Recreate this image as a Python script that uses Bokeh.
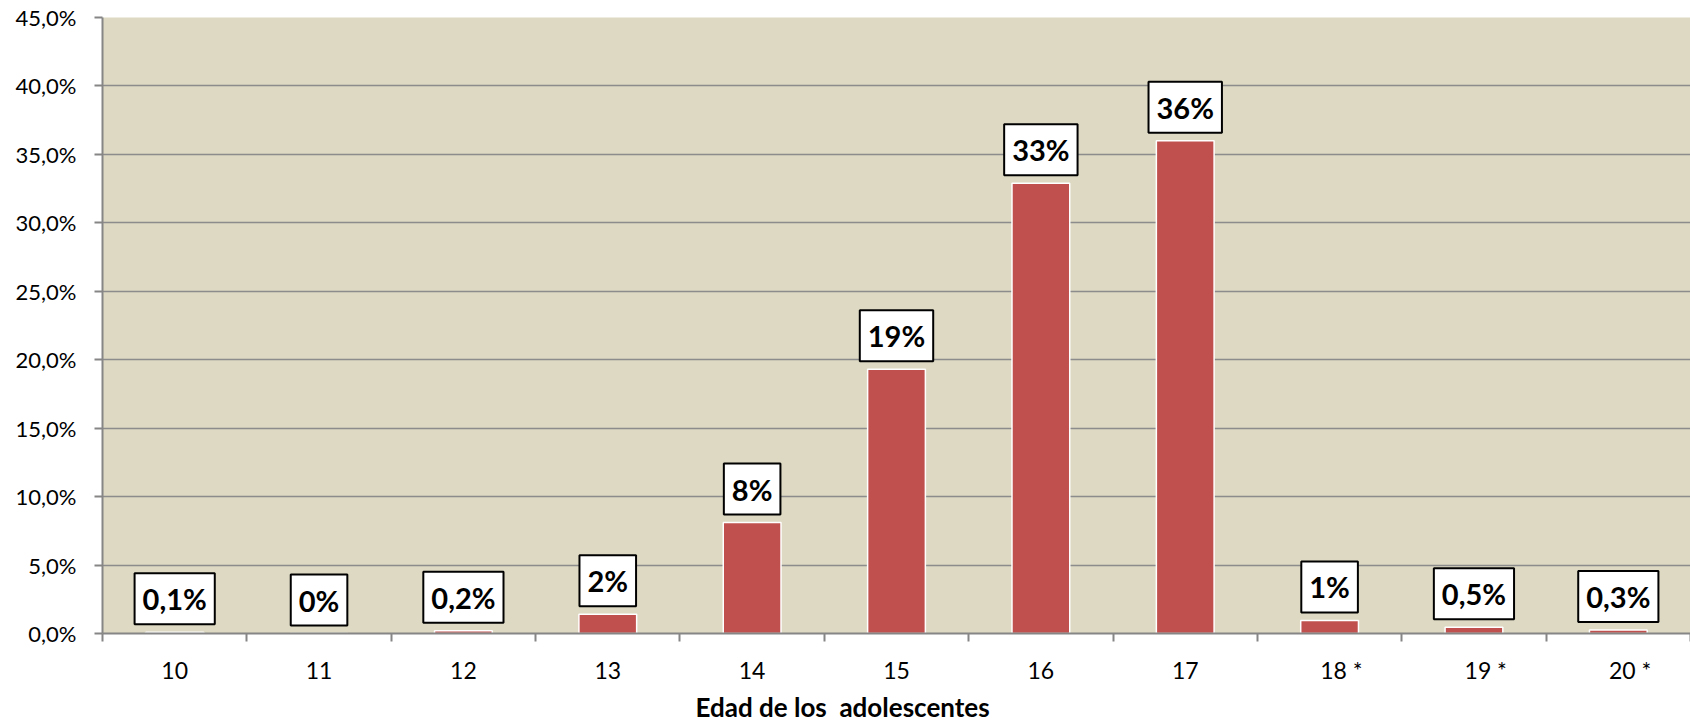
from bokeh.plotting import figure
from bokeh.models import ColumnDataSource, Label, FixedTicker, Range1d, Title
from bokeh.embed import file_html
from bokeh.resources import INLINE

# ---- data ----
ages = ["10", "11", "12", "13", "14", "15", "16", "17", "18", "19", "20"]
percent = [0.1, 0.0, 0.2, 1.4, 8.1, 19.3, 32.9, 36.0, 0.95, 0.45, 0.25]
value_labels = ["0,1%", "0%", "0,2%", "2%", "8%", "19%", "33%", "36%", "1%", "0,5%", "0,3%"]
footnote = ["", "", "", "", "", "", "", "", "*", "*", "*"]
y_ticks = [0, 5, 10, 15, 20, 25, 30, 35, 40, 45]
y_tick_labels = ["0,0%", "5,0%", "10,0%", "15,0%", "20,0%", "25,0%", "30,0%", "35,0%", "40,0%", "45,0%"]
x_title = "Edad de los  adolescentes"

FONT = "Lato"
AXIS_GRAY = "#868686"
NB = "\u00a0"

idx = list(range(len(ages)))
src = ColumnDataSource(dict(x=idx, top=percent, lab=value_labels))

p = figure(width=1690, height=726,
           x_range=Range1d(-0.5, len(ages) - 0.5), y_range=Range1d(0, 45),
           output_backend="svg", toolbar_location=None,
           min_border_left=102, min_border_right=0, min_border_top=17, min_border_bottom=93)
p.background_fill_color = "#DDD9C3"
p.border_fill_color = "white"
p.outline_line_color = None

p.vbar(x="x", top="top", width=0.4, source=src,
       fill_color="#C0504D", line_color="white", line_width=1.5)

# grid
p.xgrid.grid_line_color = None
p.ygrid.grid_line_color = "#8C8C8C"
p.ygrid.grid_line_width = 1.5
p.ygrid.ticker = FixedTicker(ticks=y_ticks)

# y axis
p.yaxis.ticker = FixedTicker(ticks=y_ticks, minor_ticks=[])
p.yaxis.major_label_overrides = {t: l for t, l in zip(y_ticks, y_tick_labels)}
p.yaxis.axis_line_color = AXIS_GRAY
p.yaxis.axis_line_width = 2
p.yaxis.major_tick_line_color = AXIS_GRAY
p.yaxis.major_tick_line_width = 2
p.yaxis.major_tick_out = 8
p.yaxis.major_tick_in = 0
p.yaxis.minor_tick_line_color = None
p.yaxis.major_label_standoff = 18
p.yaxis.major_label_text_font = FONT
p.yaxis.major_label_text_font_size = "22px"
p.yaxis.major_label_text_color = "black"

# x axis: labels at centres, ticks at category boundaries
tick_text = [(NB * 4 + a + " " + f) if f else a for a, f in zip(ages, footnote)]
p.xaxis.ticker = FixedTicker(ticks=idx, minor_ticks=[i - 0.5 for i in range(len(ages) + 1)])
p.xaxis.major_label_overrides = {i: a for i, a in zip(idx, tick_text)}
p.xaxis.axis_line_color = AXIS_GRAY
p.xaxis.axis_line_width = 2
p.xaxis.major_tick_line_color = None
p.xaxis.major_tick_out = 8
p.xaxis.major_tick_in = 0
p.xaxis.minor_tick_line_color = AXIS_GRAY
p.xaxis.minor_tick_line_width = 2
p.xaxis.minor_tick_out = 8
p.xaxis.minor_tick_in = 0
p.xaxis.major_label_standoff = 14
p.xaxis.major_label_text_font = FONT
p.xaxis.major_label_text_font_size = "23px"
p.xaxis.major_label_text_color = "black"

# value labels in white boxes
for x, t, lab in zip(idx, percent, value_labels):
    p.add_layout(Label(x=x, y=t, text=lab, y_offset=8,
                       text_font=FONT, text_font_style="bold", text_font_size="29px",
                       text_color="black", text_align="center", text_baseline="bottom",
                       background_fill_color="white", border_line_color="black",
                       border_line_width=2, padding=8))

# axis title
p.add_layout(Title(text=x_title.replace("  ", " " + NB), align="left", offset=593, standoff=5,
                   text_font=FONT, text_font_style="bold", text_font_size="26px",
                   text_color="black"), "below")

open("out.html", "w").write(file_html(p, INLINE))
